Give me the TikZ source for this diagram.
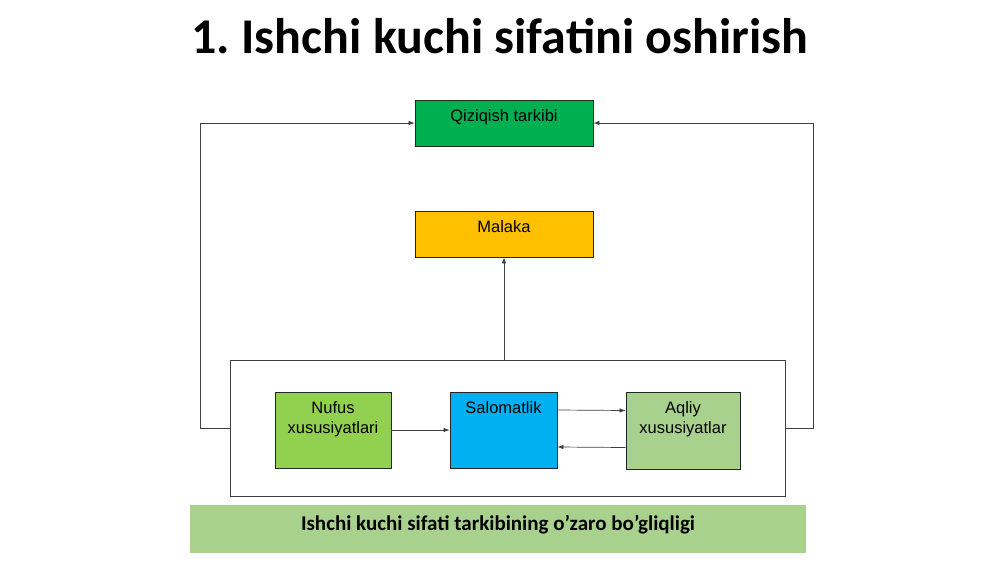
\documentclass[tikz,border=0pt]{standalone}
\usepackage{fontspec}
\setmainfont{Liberation Sans}
\newfontfamily\calibri{Carlito}
\usetikzlibrary{arrows.meta}
\frenchspacing

\definecolor{qgreen}{HTML}{00B050}
\definecolor{morange}{HTML}{FFC000}
\definecolor{ngreen}{HTML}{92D050}
\definecolor{sblue}{HTML}{00B0F0}
\definecolor{pgreen}{HTML}{A9D18E}

\tikzset{
    block/.style={rectangle, draw=black!85, line width=0.8pt, inner sep=0pt},
    blocktext/.style={label={[anchor=north, inner ysep=9.5pt, align=center, font=\fontsize{16.5}{20}\selectfont]north:#1}},
    arrow/.style={-{Latex[length=6pt,width=4.5pt]}, draw=black!75, line width=0.7pt},
}

\begin{document}
\begin{tikzpicture}[x=1pt, y=-1pt]
        \useasboundingbox[fill=white] (0, 0) rectangle (1000, 562);
        \node[font=\calibri\bfseries\fontsize{50}{56}\selectfont] (title) at (500, 36) {1. Ishchi kuchi sifatini oshirish};
        % upper boxes
        \node[block, fill=qgreen, minimum width=178pt, minimum height=46pt, blocktext={Qiziqish tarkibi}] (qiziqish) at (504, 123) {};
        \node[block, fill=morange, minimum width=178pt, minimum height=46pt, blocktext={Malaka}] (malaka) at (504, 234) {};
        % frame with three factors
        \node[rectangle, draw=black!75, line width=0.8pt, minimum width=555pt, minimum height=136pt] (frame) at (507.5, 428) {};
        \node[block, fill=ngreen, minimum width=116pt, minimum height=76pt, blocktext={Nufus\\xususiyatlari}] (nufus) at (333, 430) {};
        \node[block, fill=sblue, minimum width=107pt, minimum height=76pt, blocktext={Salomatlik}] (salomatlik) at (503.5, 430) {};
        \node[block, fill=pgreen, minimum width=114pt, minimum height=77pt, blocktext={Aqliy\\xususiyatlar}] (aqliy) at (683, 430.5) {};
        % caption
        \node[rectangle, fill=pgreen, minimum width=616pt, minimum height=48pt] (caption) at (498, 529) {};
        \node[font=\calibri\bfseries\fontsize{21}{24}\selectfont] (captiontext) at (498, 525) {Ishchi kuchi sifati tarkibining o’zaro bo’gliqligi};
        % connectors
        \draw[arrow] (frame.west) -- ++(-29, 0) |- (qiziqish.west);
        \draw[arrow] (frame.east) -- ++(28, 0) |- (qiziqish.east);
        \draw[arrow] (malaka.south |- frame.north) -- (malaka.south);
        \draw[arrow] (nufus.east) -- (salomatlik.west);
        \draw[arrow] ([yshift=20pt]salomatlik.east) -- ([yshift=20pt]aqliy.west);
        \draw[arrow] ([yshift=-17pt]aqliy.west) -- ([yshift=-17pt]salomatlik.east);
    \end{tikzpicture}
\end{document}
